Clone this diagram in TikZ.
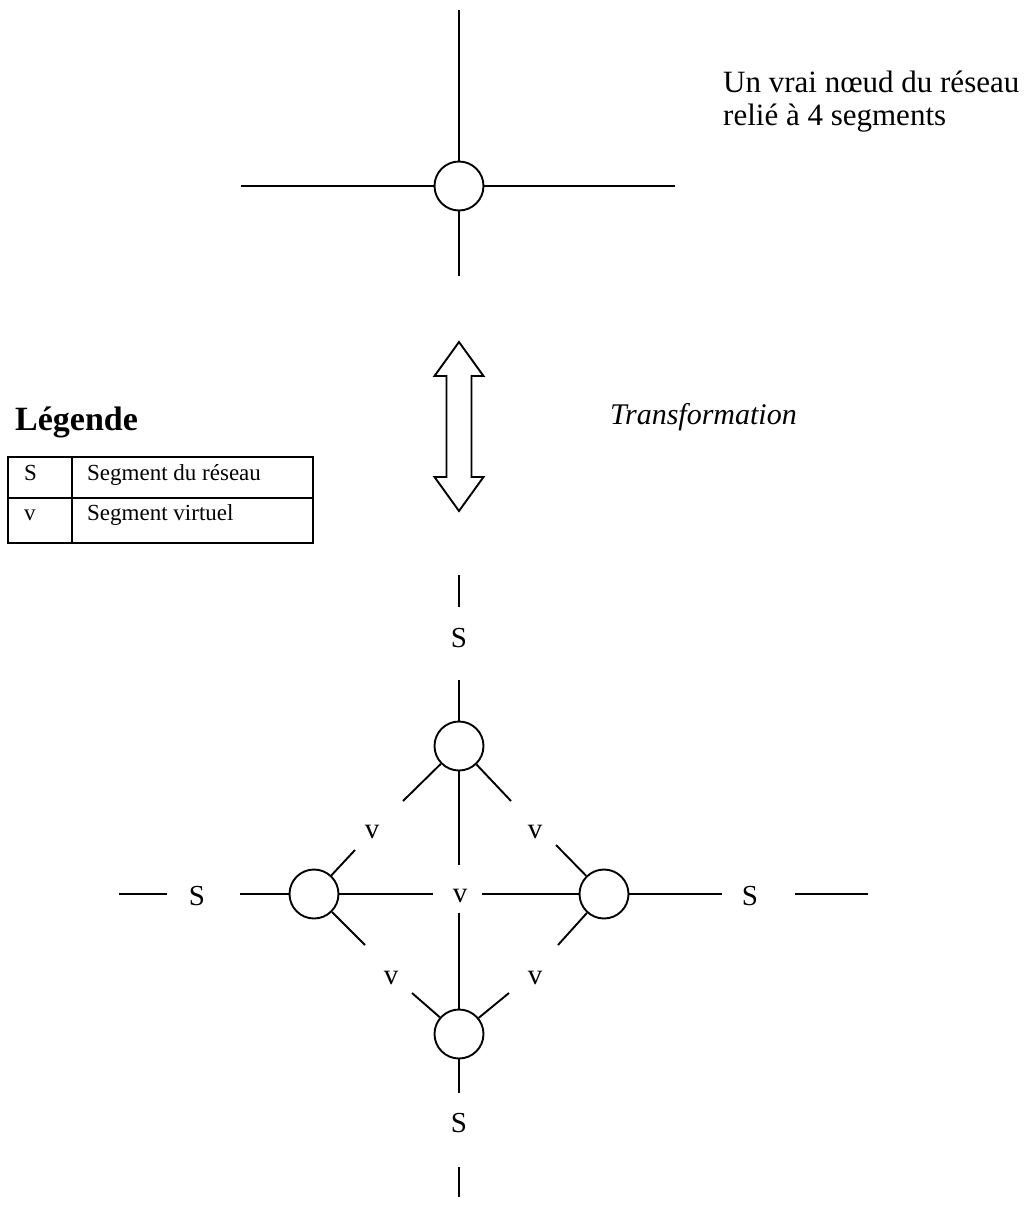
\documentclass[tikz,border=0pt]{standalone}
\usepackage{fontspec}
\setmainfont{Liberation Serif}
\usepackage{tikz}
\usetikzlibrary{positioning,calc}
\tikzset{
  noeud/.style={circle, draw=black, line width=1.9pt, minimum size=49pt, inner sep=0pt},
  seg/.style={line width=1.9pt, draw=black},
  lab/.style={inner sep=0pt, font=\fontsize{29}{32}\selectfont},
  txt/.style={inner sep=0pt, align=left, font=\fontsize{31}{34}\selectfont},
  cadre/.style={line width=1.2pt, draw=black},
  legtxt/.style={inner sep=0pt, anchor=base west, font=\fontsize{23}{26}\selectfont},
}

\begin{document}
\begin{tikzpicture}[x=1pt, y=-1pt]
\useasboundingbox (0,0) rectangle (1031,1205);
% vrai noeud
\node[noeud] (c0) at (459,186) {};
\coordinate (c0n) at (459,10);
\coordinate (c0s) at (459,276);
\coordinate (c0w) at (241,186);
\coordinate (c0e) at (675,186);
\draw[seg] (c0n) -- (c0);
\draw[seg] (c0) -- (c0s);
\draw[seg] (c0w) -- (c0);
\draw[seg] (c0) -- (c0e);
\node[txt, anchor=base west] (titre1) at (723,92) {Un vrai nœud du réseau};
\node[txt, anchor=base west] (titre2) at (723,125) {relié à 4 segments};

% fleche double
\draw[line width=1.9pt, line join=miter]
  (459,342) -- (483.5,376) -- (471.5,376) -- (471.5,477) -- (483.5,477) -- (459,511)
  -- (434.5,477) -- (446.5,477) -- (446.5,376) -- (434.5,376) -- cycle;
\node[txt, anchor=base east, font=\fontsize{30}{33}\selectfont\itshape] (transf) at (797,424) {Transformation};

% legende
\node[txt, anchor=base west, font=\fontsize{34}{37}\selectfont\bfseries] (leg) at (15,430) {Légende};
\draw[cadre] (8,457) rectangle (313,543);
\draw[cadre] (8,498) -- (313,498);
\draw[cadre] (72,457) -- (72,543);
\node[legtxt] (lS) at (24,480) {S};
\node[legtxt] (lSt) at (87,480) {Segment du réseau};
\node[legtxt] (lv) at (24,520) {v};
\node[legtxt] (lvt) at (87,520) {Segment virtuel};

% noeuds transformes
\node[noeud] (nN) at (459,746) {};
\node[noeud] (nW) at (314,894) {};
\node[noeud] (nE) at (604,894) {};
\node[noeud] (nS) at (459,1034) {};
\node[lab] (vC) at (460,896) {v};

% segments du reseau
\node[lab] (sN) at (459,638) {S};
\coordinate (sN1) at (459,575);
\coordinate (sN2) at (459,607);
\coordinate (sN3) at (459,680);
\draw[seg] (sN1) -- (sN2);
\draw[seg] (sN3) -- (nN);

\node[lab] (sW) at (197,896) {S};
\coordinate (sW1) at (119,894);
\coordinate (sW2) at (167,894);
\coordinate (sW3) at (240,894);
\draw[seg] (sW1) -- (sW2);
\draw[seg] (sW3) -- (nW);

\node[lab] (sE) at (750,896) {S};
\coordinate (sE1) at (722,894);
\coordinate (sE2) at (795,894);
\coordinate (sE3) at (868,894);
\draw[seg] (nE) -- (sE1);
\draw[seg] (sE2) -- (sE3);

\node[lab] (sS) at (459,1123) {S};
\coordinate (sS1) at (459,1093);
\coordinate (sS2) at (459,1167);
\coordinate (sS3) at (459,1197);
\draw[seg] (nS) -- (sS1);
\draw[seg] (sS2) -- (sS3);

% segments virtuels
\coordinate (vCw) at (433,894);
\coordinate (vCe) at (482,894);
\coordinate (vCn) at (459,865);
\coordinate (vCs) at (459,913);
\draw[seg] (nW) -- (vCw);
\draw[seg] (vCe) -- (nE);
\draw[seg] (nN) -- (vCn);
\draw[seg] (vCs) -- (nS);

\coordinate (nNw) at (403,801);
\coordinate (nNe) at (511,801);
\coordinate (nWn) at (355,850);
\coordinate (nWs) at (365,945);
\coordinate (nEn) at (556,845);
\coordinate (nEs) at (558,945);
\coordinate (nSw) at (412,993);
\coordinate (nSe) at (509,993);
\draw[seg] (nN) -- (nNw);
\draw[seg] (nN) -- (nNe);
\draw[seg] (nW) -- (nWn);
\draw[seg] (nW) -- (nWs);
\draw[seg] (nE) -- (nEn);
\draw[seg] (nE) -- (nEs);
\draw[seg] (nS) -- (nSw);
\draw[seg] (nS) -- (nSe);

\node[lab] (vNW) at (372,832) {v};
\node[lab] (vNE) at (535,832) {v};
\node[lab] (vSW) at (391,978) {v};
\node[lab] (vSE) at (535,978) {v};
\end{tikzpicture}
\end{document}
